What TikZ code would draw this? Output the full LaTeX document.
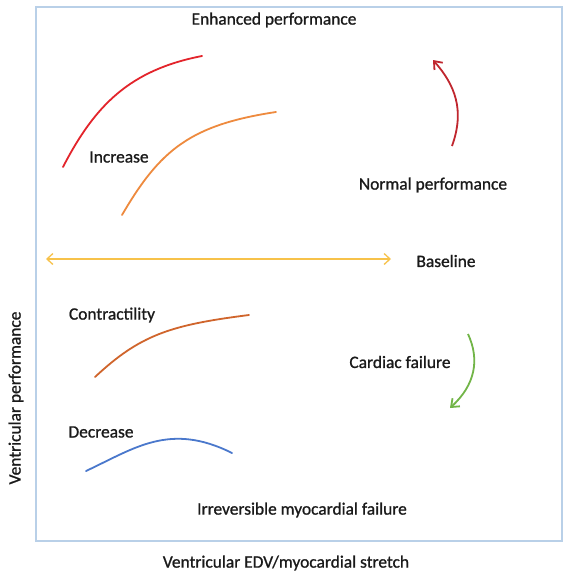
\documentclass[tikz,border=0pt]{standalone}
\usepackage{fontspec}
\setmainfont{Carlito}
\newfontfamily\lblfont[RawFeature={embolden=1.0}]{Carlito}
\usetikzlibrary{arrows.meta}
\definecolor{frameblue}{HTML}{B9D0E8}
\definecolor{txt}{HTML}{1A1A1A}
\definecolor{cred}{HTML}{E3242B}
\definecolor{corange}{HTML}{EE8A3E}
\definecolor{cbrown}{HTML}{D0652C}
\definecolor{cblue}{HTML}{4A78CC}
\definecolor{cgreen}{HTML}{72B548}
\definecolor{cyellow}{HTML}{F7C24A}
\definecolor{cdred}{HTML}{C0262E}
\tikzset{
  lbl/.style={font=\lblfont\fontsize{17.4}{20}\selectfont, text=txt, inner sep=0pt},
  curve/.style={line width=1.8pt, line cap=round},
  arr/.style={line width=1.8pt, -{Straight Barb[length=7pt,width=11pt,line width=1.8pt]}}
}
\begin{document}
\begin{tikzpicture}[x=1pt,y=-1pt]
\useasboundingbox (0,0) rectangle (563,576);
\fill[white] (0,0) rectangle (563,576);
% frame
\draw[frameblue, line width=1.2pt] (562,7) -- (36,7) -- (36,541) -- (562,541) -- cycle;
% labels
\node[lbl] (enh) at (274,20) {Enhanced performance};
\node[lbl] (inc) at (119,157) {Increase};
\node[lbl] (norm) at (433,185) {Normal performance};
\node[lbl] (base) at (446,261) {Baseline};
\node[lbl] (contr) at (112,315) {Contractility};
\node[lbl] (card) at (400,362) {Cardiac failure};
\node[lbl] (dec) at (101,432) {Decrease};
\node[lbl] (irr) at (302,510) {Irreversible myocardial failure};
\node[lbl, rotate=90] (vp) at (16,398) {Ventricular performance};
\node[lbl] (edv) at (286,563) {Ventricular EDV/myocardial stretch};
% curves
\draw[curve, cred] (63,167) .. controls (95,105) and (130,70) .. (202,56);
\draw[curve, corange] (122,215) .. controls (160,150) and (190,125) .. (276,112);
\draw[curve, cbrown] (95,377) .. controls (140,335) and (170,325) .. (249,315);
\draw[curve, cblue] (86,471) .. controls (135,448) and (170,422) .. (232,453);
% baseline
\coordinate (bl) at (46,259);
\coordinate (br) at (391,259);
\draw[cyellow, line width=1.3pt, {Straight Barb[length=6pt,width=11pt,line width=1.3pt]}-{Straight Barb[length=6pt,width=11pt,line width=1.3pt]}] (bl) -- (br);
% arrows
\coordinate (ra1) at (452,146);
\coordinate (ra2) at (433,60);
\draw[arr, cdred] (ra1) .. controls (465,110) and (455,85) .. (ra2);
\coordinate (ga1) at (468,334);
\coordinate (ga2) at (450,408);
\draw[arr, cgreen] (ga1) .. controls (480,360) and (475,385) .. (ga2);
\end{tikzpicture}
\end{document}
